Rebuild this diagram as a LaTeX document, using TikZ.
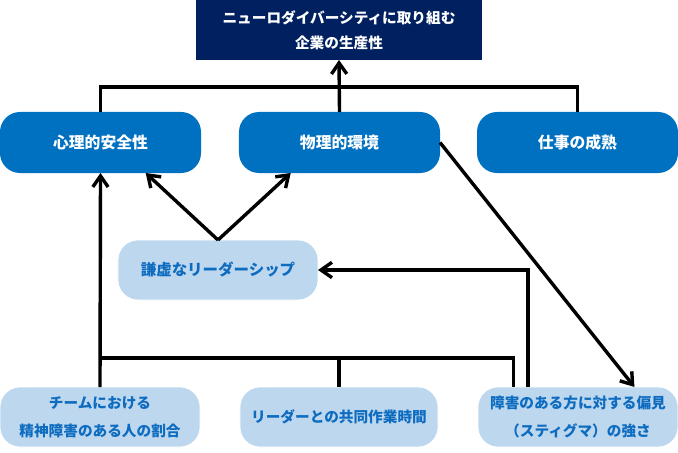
\documentclass[tikz,border=0pt]{standalone}
\usepackage{fontspec}
\setmainfont{Noto Sans CJK JP}
\usetikzlibrary{arrows.meta}
\definecolor{navy}{HTML}{002060}
\definecolor{midblue}{HTML}{0070C0}
\definecolor{paleblue}{HTML}{BDD7EE}
\definecolor{textblue}{HTML}{0E6CC0}
\tikzset{
  goalbox/.style={rectangle, fill=navy, text=white, font=\bfseries\fontsize{12.5}{21}\selectfont,
    minimum width=8.58cm, minimum height=1.8cm, align=center, outer sep=0pt},
  factorbox/.style={rectangle, rounded corners=0.6cm, fill=midblue, text=white,
    font=\bfseries\fontsize{13.5}{20}\selectfont, minimum width=6.03cm, minimum height=1.83cm, outer sep=0pt},
  causebox/.style={rectangle, rounded corners=0.6cm, fill=paleblue, draw=white, line width=0.6pt, text=textblue,
    font=\bfseries\fontsize{12.5}{24}\selectfont, minimum width=6cm, minimum height=1.8cm, align=center, outer sep=0pt},
  link/.style={line width=2.9pt, line join=miter},
  arrow/.style={link, -{Straight Barb[length=0.33cm, width=0.46cm, line width=2.9pt]}}
}
\begin{document}
\begin{tikzpicture}[x=0.03cm,y=-0.03cm]
\useasboundingbox (0,0) rectangle (678,452);
% outcome
\node[goalbox] (goal) at (339,30) {ニューロダイバーシティに取り組む\\企業の生産性};
% three factors
\node[factorbox] (psych) at (100.5,142.5) {心理的安全性};
\node[factorbox] (phys) at (339.5,142.5) {物理的環境};
\node[factorbox] (work) at (577.5,142.5) {仕事の成熟};
% antecedents
\node[causebox, font=\bfseries\fontsize{13.2}{20}\selectfont] (humble) at (218,270) {謙虚なリーダーシップ};
\node[causebox] (ratio) at (100,417) {チームにおける\\精神障害のある人の割合};
\node[causebox, minimum width=5.94cm] (time) at (339,417) {リーダーとの共同作業時間};
\node[causebox] (stigma) at (578,417) {障害のある方に対する偏見\\（スティグマ）の強さ};
% upper bus
\coordinate (topbus) at (339,87);
\draw[link] (psych.north) |- (topbus) -| (work.north);
\draw[arrow] (phys.north) -- (goal.south);
% leadership
\draw[arrow] (humble.north) -- (psych.-34);
\draw[arrow] (humble.north) -- (phys.-148);
% lower bus
\coordinate (lowbus) at (100,358);
\draw[link] (lowbus) -| (time.north);
\draw[link] (lowbus) -| (stigma.155);
\draw[arrow] (ratio.north) -- (psych.south);
\draw[arrow] (stigma.149) |- (humble.east);
\draw[arrow] (phys.east) -- (stigma.28);
\end{tikzpicture}
\end{document}
